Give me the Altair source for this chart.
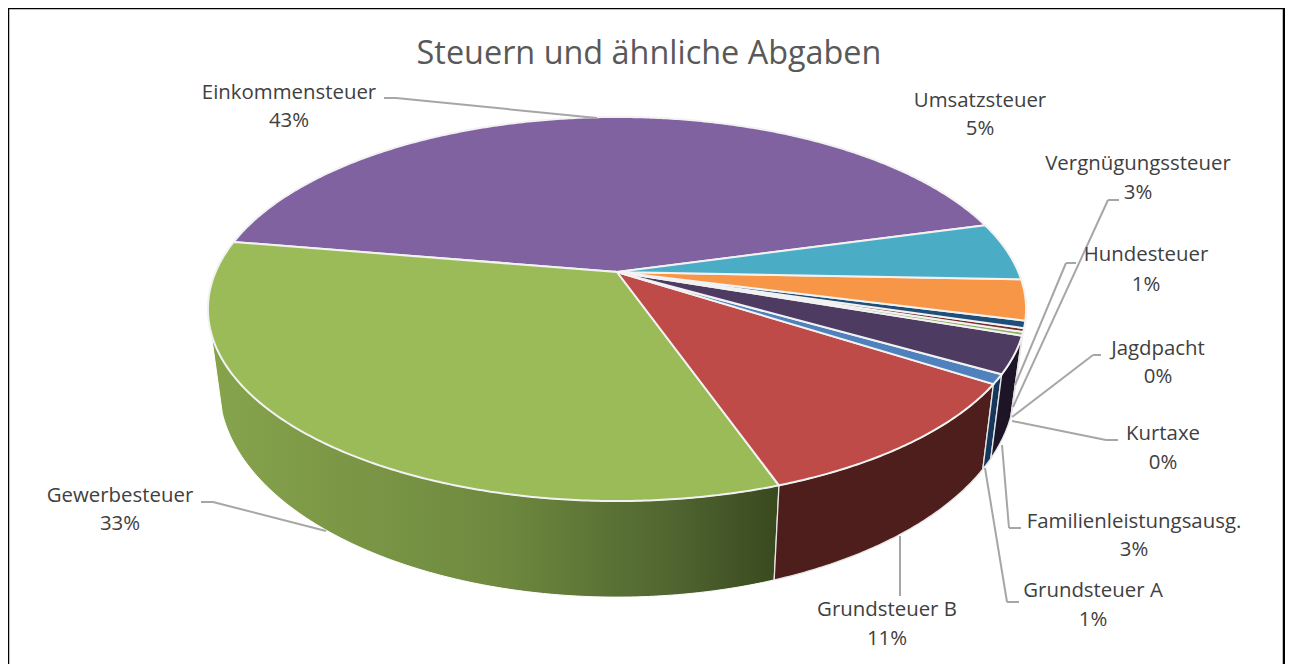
import math
import altair as alt

# ---------- data ----------
names = ["Einkommensteuer", "Gewerbesteuer", "Grundsteuer B", "Grundsteuer A",
         "Familienleistungsausg.", "Kurtaxe", "Jagdpacht", "Hundesteuer",
         "Vergnügungssteuer", "Umsatzsteuer"]
shares = [43.0, 33.0, 10.5, 0.8, 3.1, 0.3, 0.3, 0.6, 3.4, 4.9]
pct_labels = ["43%", "33%", "11%", "1%", "3%", "0%", "0%", "1%", "3%", "5%"]
top_colors = ["#8062A0", "#9BBB59", "#BE4B48", "#4F81BD", "#4D3B62",
              "#8FAE62", "#772C2A", "#1F4E79", "#F79646", "#4BACC6"]
side_colors = ["#4B3A60", "#6E8A3F", "#4E1E1C", "#16365C", "#1D1428",
               "#3A4A1E", "#45191A", "#122E47", "#94581F", "#2C6675"]
title_text = "Steuern und ähnliche Abgaben"

# ---------- layout (picture space; OX, OY is the plot origin on the page) ----------
OX, OY = 12, 12
W, H = 1269, 652
start_deg = 15.4          # where the first slice starts, counter-clockwise
CX, TOP_Y, A, B, K = 617, 272, 401.4, 184.9, 0.1927
BOT_Y, A2, B2, K2 = 346, 390.7, 203.4, 0.19
SIDE_FROM, SIDE_TO = 198.0, 342.0

label_layout = {
    "Einkommensteuer": (289, 93, 121),
    "Umsatzsteuer": (980, 101, 129),
    "Vergnügungssteuer": (1138, 164, 193),
    "Hundesteuer": (1146, 255, 285),
    "Jagdpacht": (1158, 349, 377),
    "Kurtaxe": (1163, 434, 463),
    "Familienleistungsausg.": (1134, 522, 550),
    "Grundsteuer A": (1093, 591, 620),
    "Grundsteuer B": (887, 610, 639),
    "Gewerbesteuer": (120, 496, 524),
}
leaders = [
    [(384, 98), (396, 98), (597, 118)],
    [(1119, 200), (1108, 200), (1013, 407)],
    [(1076, 263), (1066, 263), (1015, 385)],
    [(1101, 355), (1093, 355), (1012, 417)],
    [(1118, 440), (1106, 440), (1012, 421)],
    [(1021, 528), (1009, 528), (1002, 445)],
    [(1019, 602), (1007, 602), (985, 468)],
    [(900, 596), (900, 536)],
    [(201, 502), (213, 502), (326, 531)],
]
frame = [((8, 8), (8, 672)), ((8, 8), (1284, 8)), ((1284, 8), (1284, 672))]


# ---------- geometry from the shares ----------
def top_pt(t):
    X, Y = math.cos(math.radians(t)), math.sin(math.radians(t))
    w = 1 + K * Y
    return [X / w, (B * Y / w) / A]


def bot_pt(t):
    X, Y = math.cos(math.radians(t)), math.sin(math.radians(t))
    w = 1 + K2 * Y
    return [A2 * X / w / A, ((B2 * Y / w) + (TOP_Y - BOT_Y)) / A]


def arc(f, a, b):
    n = max(1, int(abs(b - a) / 0.5))
    return [f(a + (b - a) * i / n) for i in range(n + 1)]


def feature(ring, name, color):
    return {"type": "Feature",
            "properties": {"name": name, "color": color},
            "geometry": {"type": "Polygon", "coordinates": [ring + [ring[0]]]}}


total = sum(shares)
top_feats, side_feats, gew_side = [], [], []
angle = start_deg
for name, share, tc, sc in zip(names, shares, top_colors, side_colors):
    end = angle + share / total * 360
    top_feats.append(feature([[0, 0]] + arc(top_pt, angle, end), name, tc))
    lo, hi = max(angle, SIDE_FROM), min(end, SIDE_TO)
    if hi > lo:
        ring = arc(top_pt, lo, hi) + arc(bot_pt, hi, lo)
        f = feature(ring, name, sc)
        (gew_side if name == "Gewerbesteuer" else side_feats).append(f)
    angle = end

proj = dict(type="identity", reflectY=True, scale=A,
            translate=[CX - OX, TOP_Y - OY])

gradient = alt.Gradient(
    gradient="linear", x1=0, x2=1, y1=0, y2=0,
    stops=[alt.GradientStop(color="#86A34C", offset=0),
           alt.GradientStop(color="#6F8A3F", offset=0.5),
           alt.GradientStop(color="#4F6430", offset=0.82),
           alt.GradientStop(color="#39491E", offset=1)])

layers = [
    alt.Chart(alt.Data(values=gew_side)).mark_geoshape(
        fill=gradient, stroke="#FFFFFF", strokeWidth=1).project(**proj),
    alt.Chart(alt.Data(values=side_feats)).mark_geoshape(
        stroke="#E6E6E6", strokeWidth=1.3).encode(
        fill=alt.Fill("properties.color:N", scale=None)).project(**proj),
    alt.Chart(alt.Data(values=top_feats)).mark_geoshape(
        stroke="#F2F2F2", strokeWidth=2).encode(
        fill=alt.Fill("properties.color:N", scale=None)).project(**proj),
]

one = alt.Data(values=[{"k": 0}])
for pts in leaders:
    for (x0, y0), (x1, y1) in zip(pts, pts[1:]):
        layers.append(alt.Chart(one).mark_rule(color="#A6A6A6", strokeWidth=2).encode(
            x=alt.value(x0 - OX), x2=alt.value(x1 - OX),
            y=alt.value(y0 - OY), y2=alt.value(y1 - OY)))

FONT = "Open Sans"
for name, pct in zip(names, pct_labels):
    x, y1, y2 = label_layout[name]
    for text, y in ((name, y1), (pct, y2)):
        layers.append(alt.Chart(one).mark_text(
            font=FONT, fontSize=20.4, color="#404040", align="center",
            baseline="middle", text=text).encode(
            x=alt.value(x - OX), y=alt.value(y - OY)))

layers.append(alt.Chart(one).mark_text(
    font=FONT, fontSize=32.4, color="#595959", align="center",
    baseline="middle", text=title_text).encode(
    x=alt.value(649 - OX), y=alt.value(54 - OY)))

# frame: left, top and right (the bottom edge lies below the picture)
for (x0, y0), (x1, y1) in frame:
    layers.append(alt.Chart(one).mark_rule(color="#000000", strokeWidth=2.5).encode(
        x=alt.value(x0 - OX), x2=alt.value(x1 - OX),
        y=alt.value(y0 - OY), y2=alt.value(y1 - OY)))

chart = alt.layer(*layers).properties(
    width=W, height=H, padding={"left": 4, "top": 4, "right": 4, "bottom": 0},
    autosize=alt.AutoSizeParams(type="none")
).configure_view(stroke=None)

chart.save("out.html", embed_options={"renderer": "svg", "actions": False})
